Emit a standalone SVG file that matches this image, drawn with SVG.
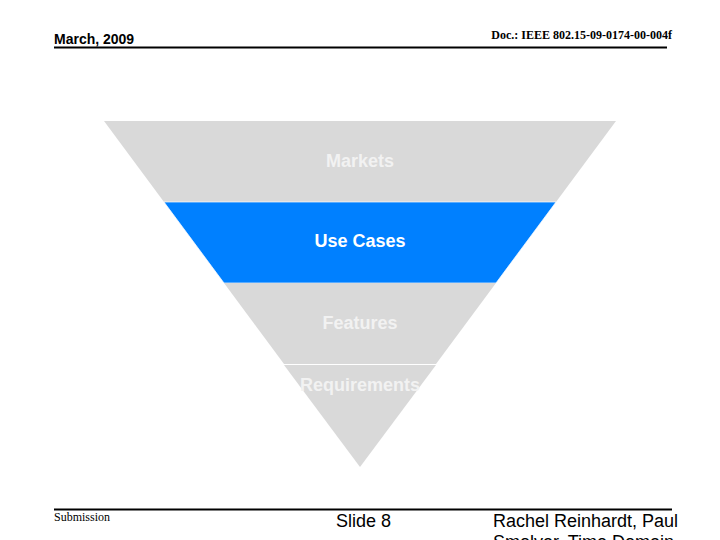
<svg xmlns="http://www.w3.org/2000/svg" width="720" height="540" viewBox="0 0 720 540">
<style>
.band{fill:#d9d9d9}
.lbl{font-family:"Liberation Sans",Arial,sans-serif;font-weight:bold;font-size:18px;text-anchor:middle;fill:#f2f2f2}
.hdr{font-family:"Liberation Sans",Arial,sans-serif;font-weight:bold;font-size:14px;fill:#000}
.doc{font-family:"Liberation Serif","Times New Roman",serif;font-weight:bold;font-size:12px;fill:#000}
.ftr{font-family:"Liberation Sans",Arial,sans-serif;font-size:18px;fill:#000}
.sub{font-family:"Liberation Serif","Times New Roman",serif;font-size:12px;fill:#000}
</style>
<rect width="720" height="540" fill="#ffffff"/>
<g id="header">
<text class="hdr" x="54" y="44">March, 2009</text>
<text class="doc" x="672" y="39" text-anchor="end">Doc.: IEEE 802.15-09-0174-00-004f</text>
<line x1="54" y1="47.5" x2="667" y2="47.5" stroke="#000" stroke-width="2"/>
</g>
<g id="markets">
<polygon class="band" points="104,121 616,121 556,202 164,202"/>
<text class="lbl" x="360" y="167">Markets</text>
</g>
<g id="usecases">
<polygon points="164,202 556,202 496,283 224,283" fill="#0080ff" stroke="#ffffff" stroke-width="0.7"/>
<text class="lbl" x="360" y="247" style="fill:#ffffff">Use Cases</text>
</g>
<g id="features">
<polygon class="band" points="224,283 496,283 436,364 284,364"/>
<text class="lbl" x="360" y="329">Features</text>
</g>
<g id="requirements">
<polygon class="band" points="284,365 436,365 360,467"/>
<text class="lbl" x="360" y="391">Requirements</text>
</g>
<g id="connectors">
<line x1="284" y1="364.5" x2="436" y2="364.5" stroke="#ffffff" stroke-width="1"/>
</g>
<g id="footer">
<line x1="54" y1="509.5" x2="672" y2="509.5" stroke="#000" stroke-width="2"/>
<text class="sub" x="54" y="521">Submission</text>
<text class="ftr" x="336" y="527">Slide 8</text>
<text class="ftr" x="493" y="527">Rachel Reinhardt, Paul</text>
<text class="ftr" x="493" y="548">Smolyar, Time Domain</text>
</g>
</svg>
